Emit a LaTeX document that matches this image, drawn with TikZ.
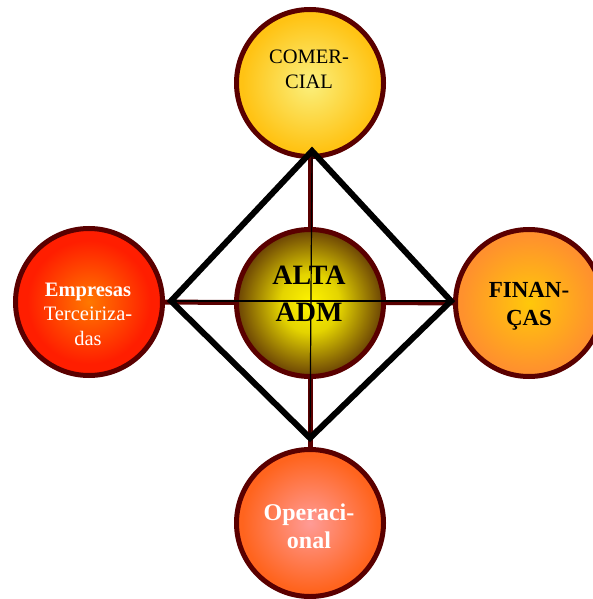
\documentclass[tikz,border=0pt]{standalone}
\usepackage{fontspec}
\setmainfont{Liberation Serif}

% colours
\definecolor{rim}{RGB}{90,0,0}
\definecolor{comIn}{RGB}{250,240,125}
\definecolor{comOut}{RGB}{255,195,20}
\definecolor{admIn}{RGB}{255,245,0}
\definecolor{admMid}{RGB}{228,212,0}
\definecolor{admOut}{RGB}{105,65,5}
\definecolor{empIn}{RGB}{255,120,0}
\definecolor{empOut}{RGB}{255,30,0}
\definecolor{finIn}{RGB}{255,200,10}
\definecolor{finOut}{RGB}{255,145,45}
\definecolor{opeIn}{RGB}{255,155,150}
\definecolor{opeOut}{RGB}{255,100,30}

% radial fills: the node's rim sits at 25bp of the shading
\pgfdeclareradialshading{shCom}{\pgfpoint{0bp}{0bp}}{color(0bp)=(comIn); color(23bp)=(comOut); color(50bp)=(comOut)}
\pgfdeclareradialshading{shAdm}{\pgfpoint{0bp}{0bp}}{color(0bp)=(admIn); color(10bp)=(admMid); color(25bp)=(admOut); color(50bp)=(admOut)}
\pgfdeclareradialshading{shEmp}{\pgfpoint{0bp}{0bp}}{color(0bp)=(empIn); color(21bp)=(empOut); color(50bp)=(empOut)}
\pgfdeclareradialshading{shFin}{\pgfpoint{0bp}{0bp}}{color(0bp)=(finIn); color(23bp)=(finOut); color(50bp)=(finOut)}
\pgfdeclareradialshading{shOpe}{\pgfpoint{0bp}{0bp}}{color(0bp)=(opeIn); color(23bp)=(opeOut); color(50bp)=(opeOut)}

\begin{document}
\begin{tikzpicture}[x=1bp,y=-1bp,
  ball/.style={circle, draw=rim, line width=5bp, minimum size=147bp, inner sep=0pt},
  axis/.style={draw=rim, line width=5bp},
  hair/.style={draw=black, line width=1.2bp},
  frame/.style={draw=black, line width=6bp, line join=miter},
  lbl/.style={align=center, inner sep=0pt}
]
\useasboundingbox (0,0) rectangle (593,599);

% circle positions
\coordinate (pCom) at (310,83);
\coordinate (pAdm) at (310,303);
\coordinate (pEmp) at (89,302);
\coordinate (pFin) at (529,303);
\coordinate (pOpe) at (310,523);

% maroon axes behind the circles
\draw[axis] (pCom) -- (pOpe);
\draw[axis] (pEmp) -- (pFin);

% circles
\node[ball, shading=shCom] (com) at (pCom) {};
\node[ball, shading=shAdm] (adm) at (pAdm) {};
\node[ball, shading=shEmp] (emp) at (pEmp) {};
\node[ball, shading=shFin] (fin) at (pFin) {};
\node[ball, shading=shOpe] (ope) at (pOpe) {};

% diamond corners
\coordinate (dT) at (312,151);
\coordinate (dR) at (451,301);
\coordinate (dB) at (310,438);
\coordinate (dL) at (171,301);

% thin cross through the centre
\draw[hair] (dT) -- (dB);
\draw[hair] (dL) -- (dR);

% diamond
\draw[frame] (dT) -- (dR) -- (dB) -- (dL) -- cycle;

% labels
\node[lbl, font=\fontsize{20.5bp}{25bp}\selectfont] (tCom) at (309,69) {COMER-\\CIAL};
\node[lbl, font=\bfseries\fontsize{28bp}{37bp}\selectfont] (tAdm) at (309,294) {ALTA\\ADM};
\node[lbl, text=white, font=\fontsize{20.5bp}{24.5bp}\selectfont] (tEmp) at (88,314) {\textbf{Empresas}\\Terceiriza-\\das};
\node[lbl, font=\bfseries\fontsize{23bp}{28bp}\selectfont] (tFin) at (529,306) {FINAN-\\ÇAS};
\node[lbl, text=white, font=\bfseries\fontsize{24bp}{28bp}\selectfont] (tOpe) at (309,526) {Operaci-\\onal};
\end{tikzpicture}
\end{document}
